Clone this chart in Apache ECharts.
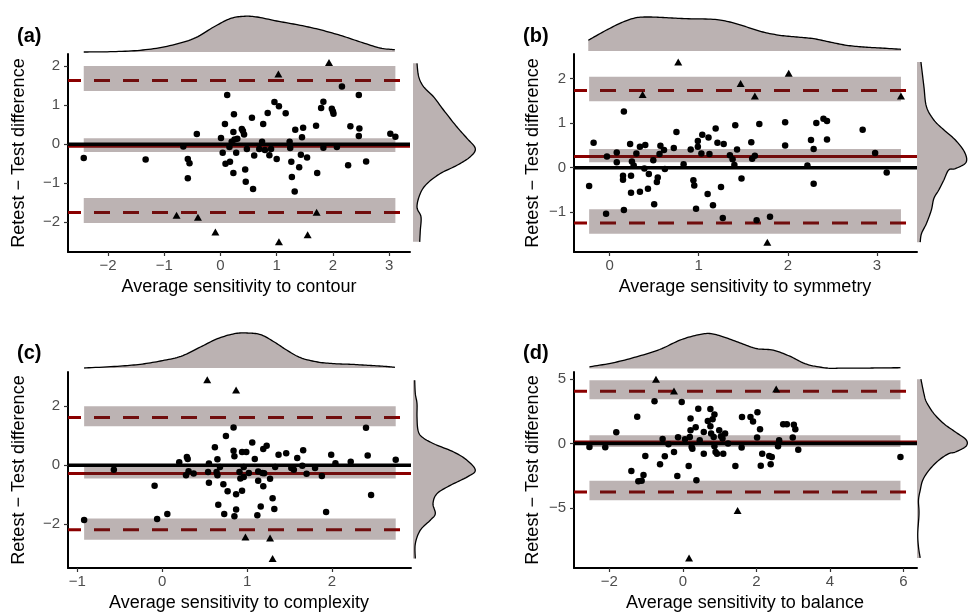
<!DOCTYPE html>
<html>
<head>
<meta charset="utf-8">
<script src="https://cdn.jsdelivr.net/npm/echarts@6/dist/echarts.min.js"></script>
<style>
  html, body { margin: 0; padding: 0; background: #fff; }
  #chart { width: 969px; height: 614px; }
</style>
</head>
<body>
<div id="chart"></div>
<script>
// ===== (a) contour =====
const contourX = [-2.43,-1.33,-0.66,-0.58,-0.55,-0.58,-0.42,0.01,0.12,0.08,0.04,0.09,0.17,0.24,0.23,0.23,0.28,0.30,0.20,0.16,0.25,
  0.38,0.42,0.40,0.44,0.45,0.47,0.56,0.58,0.60,0.69,0.76,0.74,0.84,0.79,0.87,0.90,0.96,1.04,1.16,1.00,1.23,1.24,1.26,1.27,1.32,
  1.33,1.40,1.43,1.45,1.47,1.54,1.70,1.72,1.79,1.83,1.83,1.98,2.00,2.01,2.07,2.16,2.27,2.31,2.46,2.47,2.46,2.59,3.02,3.11];
const contourY = [-0.35,-0.39,-0.06,-0.38,-0.49,-0.87,0.26,0.16,1.26,0.52,-0.22,-0.50,-0.45,0.77,0.31,-0.74,-0.22,0.14,0.06,-0.07,0.12,
  0.39,0.25,0.34,-0.65,-0.96,-0.12,0.68,-1.15,-0.29,-0.12,0.52,0.06,0.80,-0.15,-0.28,-0.12,1.08,0.97,0.79,-0.38,0.06,-0.10,-0.45,-0.84,-1.21,
  0.37,-0.59,-0.27,0.18,0.42,-0.34,0.47,-0.74,0.93,1.09,-0.09,0.91,0.84,0.78,-0.07,1.48,-0.54,0.46,1.26,0.40,0.21,-0.44,0.27,0.19];
const contourOutX = [1.03, 1.93, -0.78, -0.40, -0.09, 1.04, 1.55, 1.71];
const contourOutY = [1.80, 2.09, -1.82, -1.87, -2.25, -2.50, -2.32, -1.74];
const contourLimits = [-0.05, 1.63, -1.75];            // bias, upper LoA, lower LoA
const contourCI = [[1.36, 2.0], [-0.2, 0.15], [-2.02, -1.38]];
const contourTopX = [-2.43,-1.96,-1.43,-0.95,-0.48,-0.12,0.17,0.41,0.65,1.0,1.42,1.77,2.13,2.49,2.84,3.10];
const contourTopD = [0,0.3,1.7,5.7,13.3,25,33.3,35.7,35,31,26.7,22.3,16.7,10,4,2.3];
const contourSideY = [2.07,1.73,1.47,1.21,0.87,0.44,0.15,-0.11,-0.32,-0.54,-0.75,-1.01,-1.26,-1.61,-1.86,-2.21,-2.50];
const contourSideD = [4,5.7,10.7,20.7,30.7,44,54,62.3,57.3,44,27.3,14,7.3,4,8,7.3,6.7];
const contourXTicks = [-2, -1, 0, 1, 2, 3];
const contourYTicks = [-2, -1, 0, 1, 2];

// ===== (b) symmetry =====
const symmetryX = [-0.23,-0.18,-0.04,-0.03,0.08,0.08,0.16,0.16,0.15,0.15,0.23,0.24,0.24,0.25,0.27,0.30,0.34,0.34,0.39,0.40,0.43,0.44,
  0.49,0.50,0.53,0.54,0.56,0.57,0.61,0.62,0.72,0.75,0.83,0.91,0.94,0.95,0.97,0.99,0.99,1.03,1.04,1.11,1.10,1.12,1.16,1.19,1.21,1.25,
  1.27,1.28,1.35,1.38,1.40,1.41,1.43,1.48,1.59,1.60,1.63,1.65,1.68,1.80,1.97,1.97,2.22,2.26,2.29,2.29,2.32,2.40,2.44,2.44,2.84,2.98,3.11];
const symmetryY = [-0.41,0.56,-1.03,0.25,0.12,0.34,1.26,-0.95,-0.18,-0.27,0.53,-0.18,-0.56,0.14,0.05,0.32,0.47,-0.54,-0.02,0.51,-0.47,-0.14,
  0.17,-0.82,-0.32,-0.22,0.31,0.49,0.40,-0.03,0.44,0.80,0.08,0.41,-0.28,-0.40,-0.92,0.60,0.47,0.32,0.74,0.68,-0.59,0.31,-0.84,0.88,0.56,-0.43,
  -1.13,0.53,0.28,0.19,0.06,0.95,0.41,-0.24,0.57,0.20,0.27,-1.18,0.98,-1.10,1.02,0.50,0.05,0.62,0.42,-0.36,1.00,1.10,1.05,0.63,0.85,0.33,-0.11];
const symmetryOutX = [0.37, 0.77, 1.47, 1.63, 2.01, 3.27, 1.77];
const symmetryOutY = [1.64, 2.37, 1.89, 1.61, 2.12, 1.61, -1.67];
const symmetryLimits = [0.25, 1.73, -1.24];
const symmetryCI = [[1.49, 2.04], [0.12, 0.42], [-1.48, -0.93]];
const symmetryTopX = [-0.24,-0.04,0.15,0.30,0.45,0.64,0.86,1.16,1.35,1.54,1.72,1.91,2.10,2.29,2.47,2.66,2.85,3.04,3.27];
const symmetryTopD = [10.7,20.7,29,33.3,34,33.3,32.3,31.7,29,24,19,15.7,14,12.3,9,5.7,4,3,1.7];
const symmetrySideY = [2.37,1.82,1.37,1.07,0.85,0.62,0.35,0.12,-0.02,-0.05,-0.28,-0.50,-0.69,-0.95,-1.25,-1.48,-1.67];
const symmetrySideD = [5.3,9.3,12.7,22.7,36,51.7,64,66,51.7,42.7,36,29.3,22.7,19.3,12.7,6,4.3];
const symmetryXTicks = [0, 1, 2, 3];
const symmetryYTicks = [-1, 0, 1, 2];

// ===== (c) complexity =====
const complexityX = [-0.92,-0.57,-0.09,-0.06,0.06,0.20,0.29,0.30,0.28,0.31,0.37,0.55,0.54,0.55,0.62,0.65,0.64,0.65,0.66,0.68,0.72,0.73,
  0.75,0.77,0.84,0.84,0.85,0.85,0.87,0.87,0.91,0.92,0.94,0.99,0.94,0.96,0.96,1.02,1.06,1.09,1.12,1.13,1.16,1.13,1.18,1.19,1.19,1.23,
  1.20,1.27,1.30,1.32,1.33,1.37,1.46,1.52,1.55,1.59,1.65,1.66,1.70,1.80,1.88,1.93,1.99,2.04,2.22,2.40,2.42,2.46,2.75];
const complexityY = [-1.85,-0.15,-0.69,-1.82,-1.65,0.10,0.28,0.21,-0.34,-0.20,-0.28,0.06,-0.23,-0.59,0.61,0.20,-0.23,-0.34,-1.34,-0.06,-0.64,-1.65,
  0.99,-0.88,1.28,0.49,0.31,-1.73,-1.50,-0.98,-0.23,-0.45,0.45,0.45,-0.86,-0.06,-0.40,-0.26,0.77,0.21,-1.69,-0.52,-1.40,-0.21,-0.26,-0.71,0.55,0.66,
  -0.27,-0.46,-1.12,-1.48,-0.06,0.36,0.41,-0.09,-0.15,0.25,-0.02,0.51,-0.29,-0.09,-0.36,-1.58,0.36,0.07,0.12,1.27,0.33,-1.01,0.19];
const complexityOutX = [0.53, 0.87, 0.98, 1.27, 1.30];
const complexityOutY = [2.90, 2.55, -2.43, -2.46, -3.16];
const complexityLimits = [-0.28, 1.62, -2.18];
const complexityCI = [[1.32, 2.0], [-0.45, -0.02], [-2.52, -1.80]];
const complexityTopX = [-0.92,-0.53,-0.26,-0.02,0.22,0.45,0.65,0.85,1.0,1.16,1.32,1.47,1.63,1.83,2.03,2.22,2.42,2.61,2.74];
const complexityTopD = [0,1.7,3.7,7,11.7,21,29.3,34.3,35,33.3,26,17.7,10.3,6,4.3,3.7,2.7,1.7,0.7];
const complexitySideY = [2.88,2.43,2.09,1.64,1.19,0.96,0.73,0.45,0.17,-0.17,-0.40,-0.68,-0.96,-1.30,-1.64,-1.86,-2.20,-2.66,-3.16];
const complexitySideD = [1.7,2.3,4,4,5,9,20.7,40.7,54,62.3,54,37.3,24,20,22.3,17.3,7.3,2.3,2.3];
const complexityXTicks = [-1, 0, 1, 2];
const complexityYTicks = [-2, 0, 2];

// ===== (d) balance =====
const balanceX = [-2.54,-2.11,-1.81,-1.40,-1.24,-1.21,-1.12,-1.07,-1.02,-0.77,-0.62,-0.55,-0.49,-0.39,-0.24,-0.15,-0.13,-0.03,0.06,0.16,
  0.19,0.21,0.21,0.24,0.26,0.35,0.37,0.42,0.46,0.57,0.57,0.68,0.75,0.75,0.77,0.81,0.86,0.84,0.86,0.89,0.93,0.99,1.04,1.08,1.10,1.15,1.23,
  1.43,1.60,1.61,1.84,1.91,2.03,2.02,2.10,2.12,2.16,2.35,2.39,2.42,2.59,2.62,2.73,2.83,2.99,3.02,3.06,3.14,5.92];
const balanceY = [-0.26,-0.28,0.88,-2.12,2.09,-2.92,-2.87,-2.43,-0.96,3.28,-1.60,0.36,-0.98,-0.05,-0.65,-2.51,0.49,3.23,0.34,-1.73,
  0.52,1.94,1.03,-0.26,-0.39,1.27,-2.84,2.71,0.26,-0.78,0.90,1.76,2.69,1.34,0.78,1.89,2.25,0.52,-0.21,-0.65,-0.78,1.03,0.57,0.39,-0.78,0.78,0.0,
  -1.73,-0.31,2.07,2.07,1.71,2.43,0.47,1.11,-1.71,-0.78,-0.96,-1.60,-1.03,-0.21,0.26,1.50,1.50,0.47,1.47,1.11,-0.47,-1.03];
const balanceOutX = [-0.73, -0.24, 2.54, 1.49, 0.17];
const balanceOutY = [4.99, 4.08, 4.24, -5.19, -8.86];
const balanceLimits = [0.13, 4.06, -3.75];
const balanceCI = [[3.44, 4.91], [-0.26, 0.65], [-4.39, -2.87]];
const balanceTopX = [-2.54,-1.90,-1.26,-0.63,-0.08,0.37,0.73,1.10,1.55,2.00,2.46,2.91,3.37,3.91,4.27,4.90,5.35,5.92];
const balanceTopD = [1.7,5.7,11.7,19,28.3,33.3,35,31.7,25.7,20,18.3,12.3,4.3,0.5,0.3,0.4,0.6,0.8];
const balanceSideY = [4.99,3.88,3.23,2.33,1.55,0.90,0.30,-0.20,-0.65,-0.78,-1.29,-2.07,-2.84,-3.62,-4.39,-5.43,-6.98,-8.01,-8.86];
const balanceSideD = [5.3,9.3,12.7,22.7,36,51.7,66,66,51.7,42.7,29.3,16,7.7,4.3,2,2.7,1,2,4.3];
const balanceXTicks = [-2, 0, 2, 4, 6];
const balanceYTicks = [-5, 0, 5];

const panels = [
  { tag: '(a)', xTitle: 'Average sensitivity to contour',
    x: contourX, y: contourY, ox: contourOutX, oy: contourOutY, lim: contourLimits, ci: contourCI,
    topX: contourTopX, topD: contourTopD, sideY: contourSideY, sideD: contourSideD,
    xTicks: contourXTicks, yTicks: contourYTicks,
    xRange: [-2.71, 3.37], yRange: [-2.76, 2.31],
    main: { left: 68, top: 54, width: 342, height: 198 }, topTop: 14, sideLeft: 413,
    tagPos: [17, 36], xTitlePos: [239, 287], yTitlePos: [19, 153] },
  { tag: '(b)', xTitle: 'Average sensitivity to symmetry',
    x: symmetryX, y: symmetryY, ox: symmetryOutX, oy: symmetryOutY, lim: symmetryLimits, ci: symmetryCI,
    topX: symmetryTopX, topD: symmetryTopD, sideY: symmetrySideY, sideD: symmetrySideD,
    xTicks: symmetryXTicks, yTicks: symmetryYTicks,
    xRange: [-0.40, 3.45], yRange: [-1.89, 2.55],
    main: { left: 574, top: 54, width: 343, height: 198 }, topTop: 13, sideLeft: 917,
    tagPos: [523, 36], xTitlePos: [745, 287], yTitlePos: [533, 153] },
  { tag: '(c)', xTitle: 'Average sensitivity to complexity',
    x: complexityX, y: complexityY, ox: complexityOutX, oy: complexityOutY, lim: complexityLimits, ci: complexityCI,
    topX: complexityTopX, topD: complexityTopD, sideY: complexitySideY, sideD: complexitySideD,
    xTicks: complexityXTicks, yTicks: complexityYTicks,
    xRange: [-1.11, 2.93], yRange: [-3.48, 3.16],
    main: { left: 68, top: 372, width: 343, height: 196 }, topTop: 330, sideLeft: 413,
    tagPos: [17, 353], xTitlePos: [239, 603], yTitlePos: [19, 470] },
  { tag: '(d)', xTitle: 'Average sensitivity to balance',
    x: balanceX, y: balanceY, ox: balanceOutX, oy: balanceOutY, lim: balanceLimits, ci: balanceCI,
    topX: balanceTopX, topD: balanceTopD, sideY: balanceSideY, sideD: balanceSideD,
    xTicks: balanceXTicks, yTicks: balanceYTicks,
    xRange: [-2.96, 6.37], yRange: [-9.64, 5.55],
    main: { left: 574, top: 372, width: 343, height: 196 }, topTop: 330.5, sideLeft: 917,
    tagPos: [523, 353], xTitlePos: [745, 603], yTitlePos: [533, 470] }
];

const FONT = '"Liberation Sans", Arial, Helvetica, sans-serif';
const TOP_H = 38;     // height of the upper marginal strip
const SIDE_W = 70;    // width of the right marginal strip
const DARKRED = '#8b0000';
const FILL = '#bbb2b2';
const minus = v => String(v).replace('-', '\u2212');

// Catmull-Rom curve through pixel points, sampled for drawing
function smoothPixels(p, steps) {
  const out = [p[0]];
  for (let k = 0; k < p.length - 1; k++) {
    const a = p[k - 1] || p[k], b = p[k], c = p[k + 1], d = p[k + 2] || p[k + 1];
    const c1 = [b[0] + (c[0] - a[0]) / 6, b[1] + (c[1] - a[1]) / 6];
    const c2 = [c[0] - (d[0] - b[0]) / 6, c[1] - (d[1] - b[1]) / 6];
    for (let s = 1; s <= steps; s++) {
      const t = s / steps, u = 1 - t;
      out.push([
        u * u * u * b[0] + 3 * u * u * t * c1[0] + 3 * u * t * t * c2[0] + t * t * t * c[0],
        u * u * u * b[1] + 3 * u * u * t * c1[1] + 3 * u * t * t * c2[1] + t * t * t * c[1]
      ]);
    }
  }
  return out;
}

function densityRenderer(pos, dens, horizontal) {
  return function (params, api) {
    if (params.dataIndex !== 0) return null;
    const pts = pos.map((v, k) => horizontal ? api.coord([v, dens[k]]) : api.coord([dens[k], v]));
    const last = pos.length - 1;
    const b0 = horizontal ? api.coord([pos[0], 0]) : api.coord([0, pos[0]]);
    const b1 = horizontal ? api.coord([pos[last], 0]) : api.coord([0, pos[last]]);
    const curve = smoothPixels(pts, 10);
    return {
      type: 'group',
      children: [
        { type: 'polygon', shape: { points: [b0].concat(curve, [b1]) }, style: { fill: FILL, stroke: null } },
        { type: 'polyline', shape: { points: curve }, style: { fill: null, stroke: '#000', lineWidth: 1.3 } }
      ]
    };
  };
}

const grids = [], xAxes = [], yAxes = [], series = [], graphics = [];

panels.forEach((p, i) => {
  // main panel
  grids[i] = Object.assign({}, p.main);
  // upper marginal strip
  grids[4 + i] = { left: p.main.left, width: p.main.width, top: p.topTop, height: TOP_H };
  // right marginal strip
  grids[8 + i] = { left: p.sideLeft, width: SIDE_W, top: p.main.top, height: p.main.height };

  xAxes[i] = {
    type: 'value', gridIndex: i, min: p.xRange[0], max: p.xRange[1],
    axisLine: { onZero: false, lineStyle: { color: '#000', width: 2 } },
    axisTick: { length: 4, lineStyle: { color: '#333', width: 1.2 }, customValues: p.xTicks },
    axisLabel: { customValues: p.xTicks, color: '#4d4d4d', fontSize: 15, fontFamily: FONT, margin: 6, formatter: minus },
    splitLine: { show: false }
  };
  yAxes[i] = {
    type: 'value', gridIndex: i, min: p.yRange[0], max: p.yRange[1],
    axisLine: { onZero: false, lineStyle: { color: '#000', width: 2 } },
    axisTick: { length: 4, lineStyle: { color: '#333', width: 1.2 }, customValues: p.yTicks },
    axisLabel: { customValues: p.yTicks, color: '#4d4d4d', fontSize: 15, fontFamily: FONT, margin: 8, formatter: minus },
    splitLine: { show: false }
  };
  xAxes[4 + i] = { type: 'value', gridIndex: 4 + i, min: p.xRange[0], max: p.xRange[1], show: false };
  yAxes[4 + i] = { type: 'value', gridIndex: 4 + i, min: 0, max: TOP_H, show: false };
  xAxes[8 + i] = { type: 'value', gridIndex: 8 + i, min: 0, max: SIDE_W, show: false };
  yAxes[8 + i] = { type: 'value', gridIndex: 8 + i, min: p.yRange[0], max: p.yRange[1], show: false };

  const allX = p.x.concat(p.ox);
  const xLo = Math.min.apply(null, allX), xHi = Math.max.apply(null, allX);
  const span = v => [[p.xRange[0], v], [p.xRange[1], v]];
  const [bias, upper, lower] = p.lim;

  // limits of agreement (dashed) and bias (solid)
  [upper, lower].forEach(v => series.push({
    type: 'line', xAxisIndex: i, yAxisIndex: i, data: span(v), symbol: 'none', silent: true, z: 2,
    lineStyle: { color: DARKRED, width: 3, type: [16, 13], dashOffset: 3 }
  }));
  series.push({
    type: 'line', xAxisIndex: i, yAxisIndex: i, data: span(bias), symbol: 'none', silent: true, z: 2,
    lineStyle: { color: DARKRED, width: 3 }
  });

  // confidence bands around the three lines
  series.push({
    type: 'custom', xAxisIndex: i, yAxisIndex: i, data: p.ci, z: 3, silent: true,
    renderItem: (params, api) => {
      const a = api.coord([xLo, api.value(1)]);
      const b = api.coord([xHi, api.value(0)]);
      return { type: 'rect', shape: { x: a[0], y: a[1], width: b[0] - a[0], height: b[1] - a[1] },
               style: { fill: 'rgba(62,37,37,0.35)' } };
    }
  });

  // zero reference
  series.push({
    type: 'line', xAxisIndex: i, yAxisIndex: i, data: span(0), symbol: 'none', silent: true, z: 4,
    lineStyle: { color: '#000', width: 3.5 }
  });

  // participants
  series.push({
    type: 'scatter', xAxisIndex: i, yAxisIndex: i, z: 5, symbol: 'circle', symbolSize: 6.5,
    itemStyle: { color: '#000', opacity: 1 }, data: p.x.map((v, k) => [v, p.y[k]])
  });
  series.push({
    type: 'scatter', xAxisIndex: i, yAxisIndex: i, z: 5, symbol: 'triangle', symbolSize: [8, 7],
    itemStyle: { color: '#000', opacity: 1 }, data: p.ox.map((v, k) => [v, p.oy[k]])
  });

  // marginal densities
  series.push({
    type: 'custom', xAxisIndex: 4 + i, yAxisIndex: 4 + i, silent: true,
    data: p.topX.map((v, k) => [v, p.topD[k]]),
    renderItem: densityRenderer(p.topX, p.topD, true)
  });
  series.push({
    type: 'custom', xAxisIndex: 8 + i, yAxisIndex: 8 + i, silent: true,
    data: p.sideY.map((v, k) => [p.sideD[k], v]),
    renderItem: densityRenderer(p.sideY, p.sideD, false)
  });

  // panel tag and axis titles
  graphics.push({ type: 'text', x: p.tagPos[0], y: p.tagPos[1],
    style: { text: p.tag, font: 'bold 20px ' + FONT, fill: '#000', textAlign: 'left', textVerticalAlign: 'middle' } });
  graphics.push({ type: 'text', x: p.xTitlePos[0], y: p.xTitlePos[1],
    style: { text: p.xTitle, font: '18px ' + FONT, fill: '#000', textAlign: 'center', textVerticalAlign: 'middle' } });
  graphics.push({ type: 'text', x: p.yTitlePos[0], y: p.yTitlePos[1], rotation: Math.PI / 2,
    style: { text: 'Retest \u2212 Test difference', font: '18px ' + FONT, fill: '#000', textAlign: 'center', textVerticalAlign: 'middle' } });
});

const chart = echarts.init(document.getElementById('chart'), null, { renderer: 'canvas' });
chart.setOption({
  backgroundColor: '#fff',
  animation: false,
  grid: grids,
  xAxis: xAxes,
  yAxis: yAxes,
  series: series,
  graphic: graphics
});
</script>
</body>
</html>
